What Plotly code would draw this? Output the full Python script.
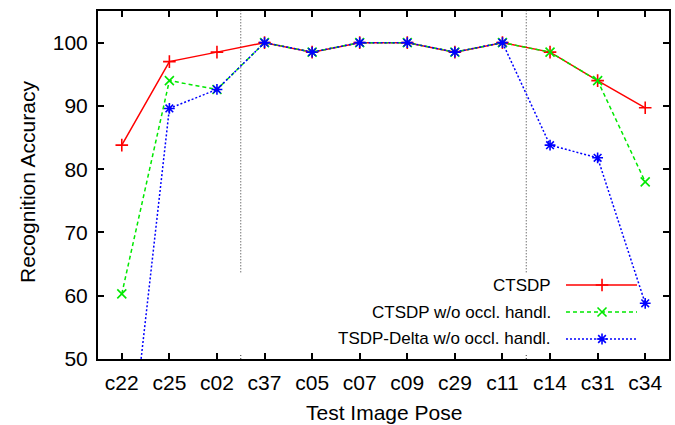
import plotly.graph_objects as go

poses = ["c22", "c25", "c02", "c37", "c05", "c07", "c09", "c29", "c11", "c14", "c31", "c34"]
ctsdp = [83.8, 97.0, 98.5, 100, 98.5, 100, 100, 98.5, 100, 98.5, 94.0, 89.7]
ctsdp_no_occl = [60.3, 94.0, 92.6, 100, 98.5, 100, 100, 98.5, 100, 98.5, 94.0, 78.0]
tsdp_delta_no_occl = [23.0, 89.6, 92.6, 100, 98.5, 100, 100, 98.5, 100, 83.8, 81.8, 58.8]
names = ["CTSDP", "CTSDP w/o occl. handl.", "TSDP-Delta w/o occl. handl."]
y_ticks = [50, 60, 70, 80, 90, 100]
dividers = [2.5, 8.5]

FONT = "Liberation Sans, Arial, Helvetica, sans-serif"
colors = ["#ff0000", "#00e800", "#0000ff"]
dashes = ["solid", "4px,3px", "2px,2px"]
symbols = ["cross-thin", "x-thin", "asterisk"]
series = [ctsdp, ctsdp_no_occl, tsdp_delta_no_occl]
MS = 9

fig = go.Figure()
for s, c, d, sym, n in zip(series, colors, dashes, symbols, names):
    fig.add_trace(go.Scatter(
        x=poses, y=s, mode="lines+markers", name=n, showlegend=False,
        line=dict(color=c, width=1.5, dash=d),
        marker=dict(symbol=sym, size=MS, color=c, line=dict(color=c, width=1.6)),
        cliponaxis=True,
    ))

# custom gnuplot-style legend (text left of sample) on an overlay axis
leg_y = [0.2126, 0.135, 0.0575]
for n, c, d, sym, ly in zip(names, colors, dashes, symbols, leg_y):
    fig.add_trace(go.Scatter(
        x=[0.8196, 0.944], y=[ly, ly], mode="lines", xaxis="x2", yaxis="y2",
        line=dict(color=c, width=1.5, dash=d), showlegend=False, hoverinfo="skip"))
    fig.add_trace(go.Scatter(
        x=[0.8827], y=[ly], mode="markers", xaxis="x2", yaxis="y2",
        marker=dict(symbol=sym, size=MS, color=c, line=dict(color=c, width=1.6)),
        showlegend=False, hoverinfo="skip"))
    fig.add_annotation(x=0.797, y=ly, xref="x2", yref="y2", text=n, showarrow=False,
                       xanchor="right", yanchor="middle",
                       font=dict(family=FONT, size=17, color="black"))

for dv in dividers:
    fig.add_shape(type="line", x0=dv, x1=dv, y0=63.7, y1=105, xref="x", yref="y",
                  line=dict(color="#333333", width=1, dash="1px,2px"), layer="below")
    fig.add_shape(type="line", x0=dv, x1=dv, y0=50, y1=50.9, xref="x", yref="y",
                  line=dict(color="#333333", width=1, dash="1px,2px"), layer="below")

# axis titles
fig.add_annotation(text="Test Image Pose", showarrow=False,
                   font=dict(family=FONT, size=21, color="black"),
                   xref="paper", yref="paper", x=(384 - 98) / 571, y=(359 - 412) / 348,
                   xanchor="center", yanchor="middle")
fig.add_annotation(text="Recognition Accuracy", showarrow=False, textangle=-90,
                   font=dict(family=FONT, size=21, color="black"),
                   xref="paper", yref="paper", x=(27 - 98) / 571, y=(359 - 182) / 348,
                   xanchor="center", yanchor="middle")

fig.update_layout(
    width=675, height=425,
    margin=dict(l=98, r=6, t=11, b=66, autoexpand=False),
    paper_bgcolor="white", plot_bgcolor="white",
    font=dict(family=FONT, size=21, color="black"),
    xaxis=dict(
        type="category", range=[-0.5, 11.5], categoryorder="array", categoryarray=poses,
        showgrid=False, zeroline=False, showline=True, linecolor="black", linewidth=2,
        mirror="ticks", ticks="inside", ticklen=6, tickwidth=1.5, tickcolor="black",
        tickfont=dict(size=21), ticklabelstandoff=4, automargin=False,
    ),
    yaxis=dict(
        range=[50, 105], tickvals=y_ticks, showgrid=False, zeroline=False,
        showline=True, linecolor="black", linewidth=2, mirror="ticks",
        ticks="inside", ticklen=6, tickwidth=1.5, tickcolor="black",
        tickfont=dict(size=21), ticklabelstandoff=4, automargin=False,
    ),
    xaxis2=dict(overlaying="x", range=[0, 1], visible=False, fixedrange=True),
    yaxis2=dict(overlaying="y", range=[0, 1], visible=False, fixedrange=True),
)

fig.write_html("out.html", config={"displayModeBar": False},
               post_script="document.body.style.margin='0';document.body.style.overflow='hidden';")
